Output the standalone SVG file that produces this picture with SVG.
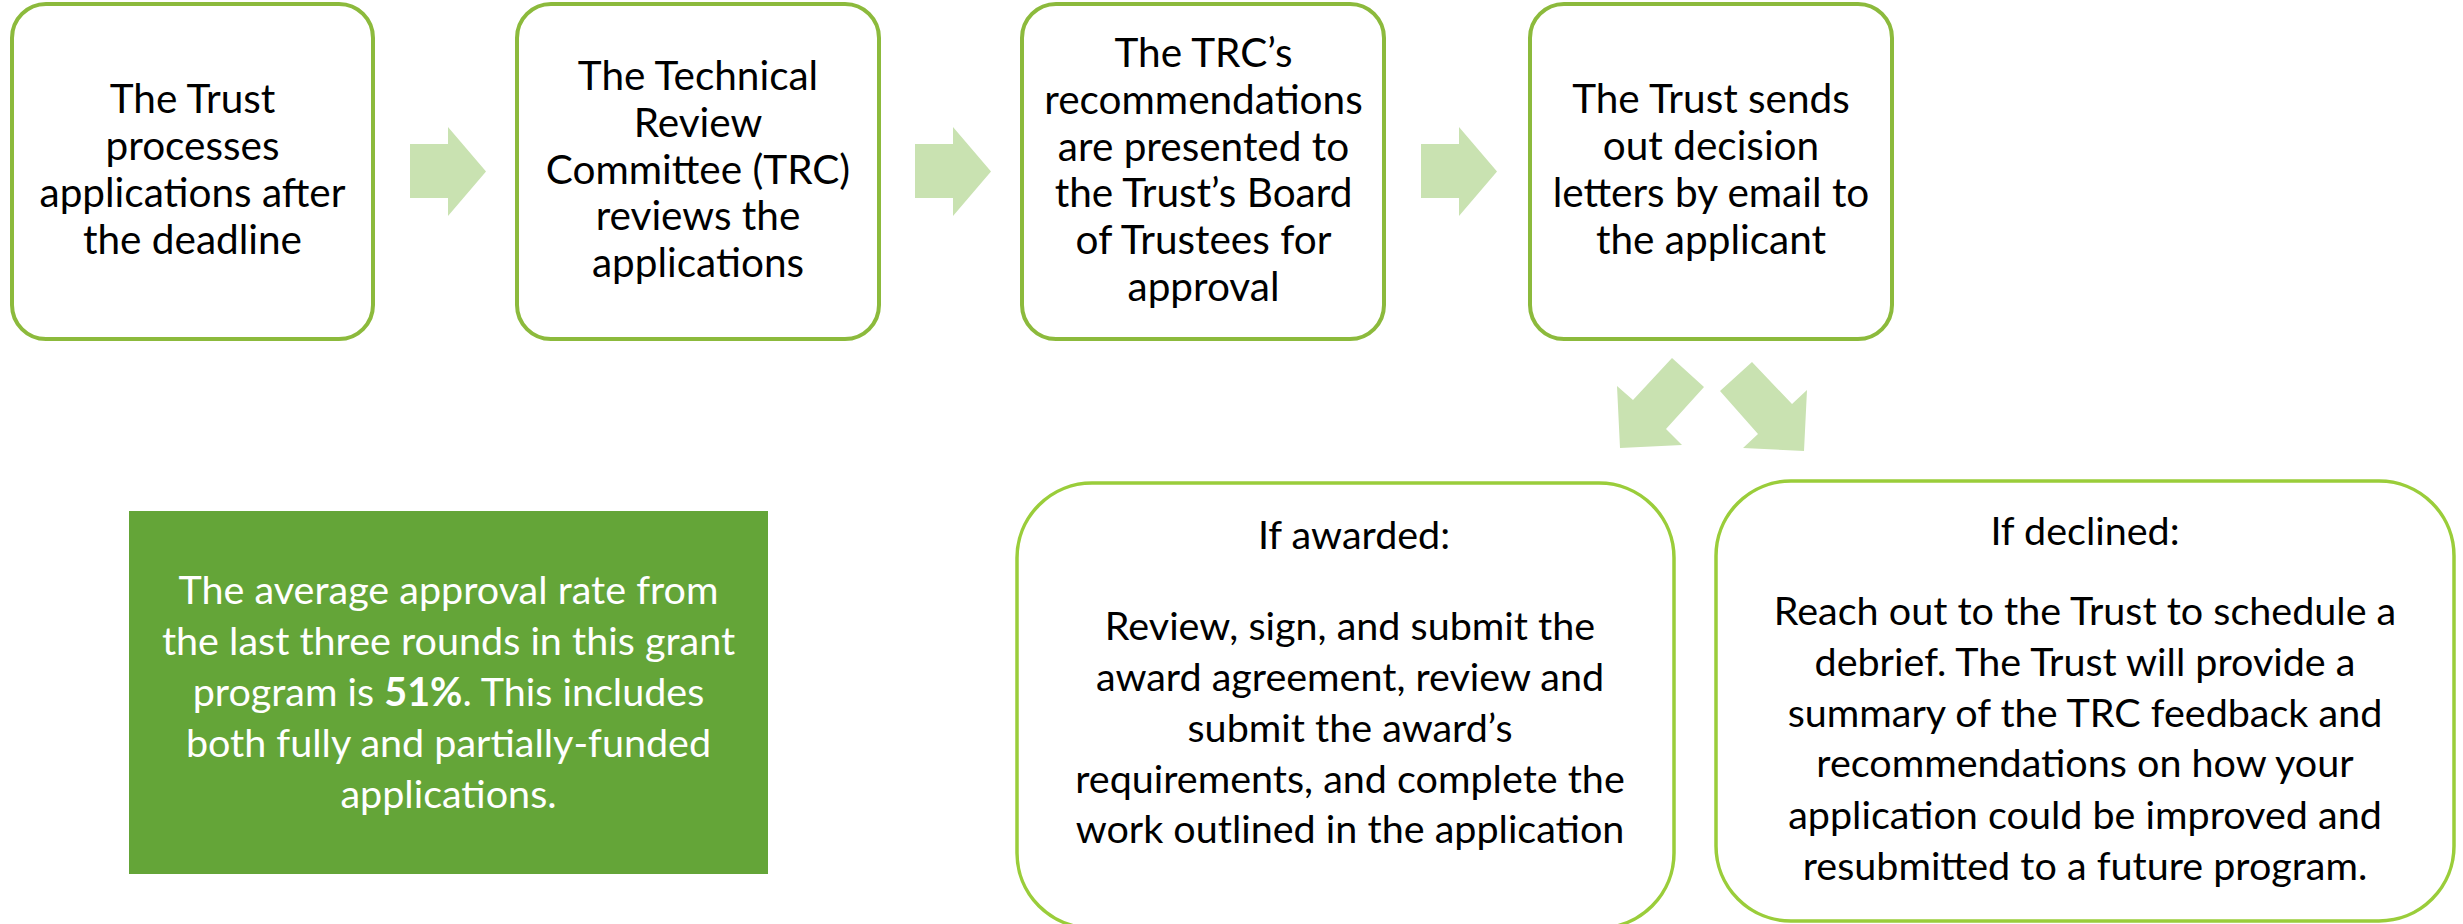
<svg xmlns="http://www.w3.org/2000/svg" xmlns:xlink="http://www.w3.org/1999/xlink" width="2463" height="924" viewBox="0 0 2463 924">
  <style>
    .step { fill: #ffffff; stroke: #8CBA3C; stroke-width: 4; }
    .outcome { fill: #ffffff; stroke: #9ACD3A; stroke-width: 3.5; }
    .t { font-family: Lato, "Liberation Sans", sans-serif; fill: #000000; text-anchor: middle; }
    .big { font-size: 40.5px; }
    .mid { font-size: 39.5px; }
    .white { fill: #ffffff; }
    .arrow { fill: #C9E2B1; }
  </style>
  <defs>
    <path id="rarrow" d="M0,144 H38 V127 L76,171.5 L38,216 V198 H0 Z"/>
  </defs>
  <rect x="0" y="0" width="2463" height="924" fill="#ffffff"/>

  <g id="connectors" class="arrow">
    <use xlink:href="#rarrow" href="#rarrow" x="410" y="0"/>
    <use xlink:href="#rarrow" href="#rarrow" x="915" y="0"/>
    <use xlink:href="#rarrow" href="#rarrow" x="1421" y="0"/>
    <polygon points="1672,358 1704,387 1666,429 1682,445 1620,448 1617,386 1633,400"/>
    <polygon points="1752,362 1720,391 1758,434 1743,448 1804,451 1807,390 1792,404"/>
  </g>

  <g id="node-process">
    <rect class="step" x="12" y="4" width="361" height="335" rx="34" ry="34"/>
    <text class="t big" x="192.5" y="113">The Trust</text>
    <text class="t big" x="192.5" y="160">processes</text>
    <text class="t big" x="192.5" y="207">applications after</text>
    <text class="t big" x="192.5" y="254">the deadline</text>
  </g>

  <g id="node-trc">
    <rect class="step" x="517" y="4" width="362" height="335" rx="34" ry="34"/>
    <text class="t big" x="698" y="90">The Technical</text>
    <text class="t big" x="698" y="137">Review</text>
    <text class="t big" x="698" y="184">Committee (TRC)</text>
    <text class="t big" x="698" y="230">reviews the</text>
    <text class="t big" x="698" y="277">applications</text>
  </g>

  <g id="node-board">
    <rect class="step" x="1022" y="4" width="362" height="335" rx="34" ry="34"/>
    <text class="t big" x="1203.5" y="67">The TRC’s</text>
    <text class="t big" x="1203.5" y="114">recommendations</text>
    <text class="t big" x="1203.5" y="161">are presented to</text>
    <text class="t big" x="1203.5" y="207">the Trust’s Board</text>
    <text class="t big" x="1203.5" y="254">of Trustees for</text>
    <text class="t big" x="1203.5" y="301">approval</text>
  </g>

  <g id="node-letters">
    <rect class="step" x="1530" y="4" width="362" height="335" rx="34" ry="34"/>
    <text class="t big" x="1711" y="113">The Trust sends</text>
    <text class="t big" x="1711" y="160">out decision</text>
    <text class="t big" x="1711" y="207">letters by email to</text>
    <text class="t big" x="1711" y="254">the applicant</text>
  </g>

  <g id="node-rate">
    <rect x="129" y="511" width="639" height="363" fill="#64A538"/>
    <text class="t mid white" x="448.5" y="604">The average approval rate from</text>
    <text class="t mid white" x="448.5" y="655">the last three rounds in this grant</text>
    <text class="t mid white" x="448.5" y="706">program is <tspan font-weight="bold">51%</tspan>. This includes</text>
    <text class="t mid white" x="448.5" y="757">both fully and partially-funded</text>
    <text class="t mid white" x="448.5" y="808">applications.</text>
  </g>

  <g id="node-awarded">
    <rect class="outcome" x="1017" y="483" width="657" height="445" rx="75" ry="75"/>
    <text class="t mid" x="1354" y="549">If awarded:</text>
    <text class="t mid" x="1350" y="640">Review, sign, and submit the</text>
    <text class="t mid" x="1350" y="691">award agreement, review and</text>
    <text class="t mid" x="1350" y="742">submit the award’s</text>
    <text class="t mid" x="1350" y="793">requirements, and complete the</text>
    <text class="t mid" x="1350" y="843">work outlined in the application</text>
  </g>

  <g id="node-declined">
    <rect class="outcome" x="1716" y="481" width="738" height="440" rx="75" ry="75"/>
    <text class="t mid" x="2085" y="545">If declined:</text>
    <text class="t mid" x="2085" y="625">Reach out to the Trust to schedule a</text>
    <text class="t mid" x="2085" y="676">debrief. The Trust will provide a</text>
    <text class="t mid" x="2085" y="727">summary of the TRC feedback and</text>
    <text class="t mid" x="2085" y="777">recommendations on how your</text>
    <text class="t mid" x="2085" y="829">application could be improved and</text>
    <text class="t mid" x="2085" y="880">resubmitted to a future program.</text>
  </g>
</svg>
